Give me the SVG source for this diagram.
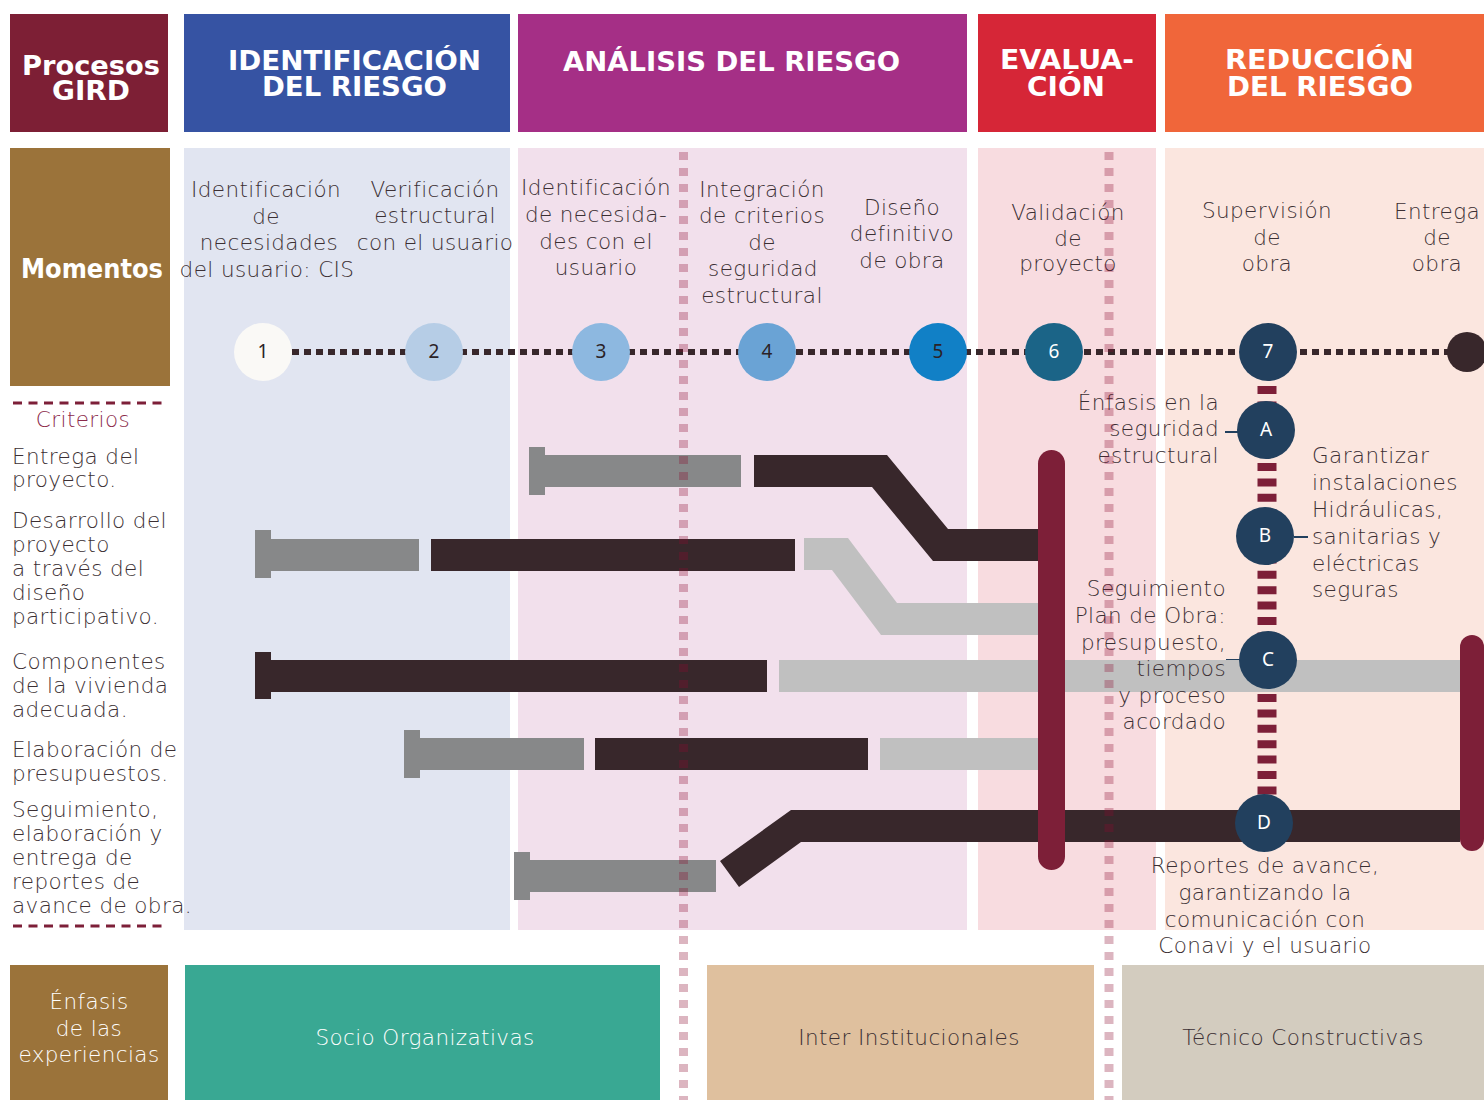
<svg xmlns="http://www.w3.org/2000/svg" width="1484" height="1100" viewBox="0 0 1484 1100">
<defs>
<style>
.hd{font-family:"DejaVu Sans","Liberation Sans",sans-serif;font-weight:bold;fill:#ffffff;font-size:27px}
.t{font-family:"DejaVu Sans","Liberation Sans",sans-serif;font-weight:300;fill:#3B2F33;font-size:21.5px;letter-spacing:0.4px}
.c{text-anchor:middle}
.e{text-anchor:end}
.w{fill:#ffffff}
.num{font-family:"Noto Sans","DejaVu Sans",sans-serif;font-size:19px;text-anchor:middle}
.gray{fill:#878889}
.dark{fill:#38272B}
.light{fill:#C0C0C0}
.crit{stroke:#7D1F38;stroke-width:3;stroke-dasharray:9 6.5}
.pinkdot{stroke:#8B0A30;stroke-opacity:0.3;stroke-width:9;stroke-dasharray:8 8}
.nd{fill:#22405E}
</style>
</defs>
<rect width="1484" height="1100" fill="#ffffff"/>

<g id="headers">
<rect x="10" y="14" width="158" height="118" fill="#7D1F35"/>
<rect x="184" y="14" width="326" height="118" fill="#3653A3"/>
<rect x="518" y="14" width="449" height="118" fill="#A52F86"/>
<rect x="978" y="14" width="178" height="118" fill="#D62637"/>
<rect x="1165" y="14" width="319" height="118" fill="#F0663A"/>
<text class="hd" x="22" y="75" textLength="138" lengthAdjust="spacingAndGlyphs">Procesos</text>
<text class="hd" x="52" y="100" textLength="78" lengthAdjust="spacingAndGlyphs">GIRD</text>
<text class="hd" x="228" y="70" textLength="253" lengthAdjust="spacingAndGlyphs">IDENTIFICACIÓN</text>
<text class="hd" x="262" y="96" textLength="185" lengthAdjust="spacingAndGlyphs">DEL RIESGO</text>
<text class="hd" x="563" y="71" textLength="337" lengthAdjust="spacingAndGlyphs">ANÁLISIS DEL RIESGO</text>
<text class="hd" x="1000" y="69" textLength="134" lengthAdjust="spacingAndGlyphs">EVALUA-</text>
<text class="hd" x="1027" y="96" textLength="78" lengthAdjust="spacingAndGlyphs">CIÓN</text>
<text class="hd" x="1225" y="69" textLength="189" lengthAdjust="spacingAndGlyphs">REDUCCIÓN</text>
<text class="hd" x="1227" y="96" textLength="186" lengthAdjust="spacingAndGlyphs">DEL RIESGO</text>
</g>

<g id="panels">
<rect x="10" y="148" width="160" height="238" fill="#9B733A"/>
<rect x="184" y="148" width="326" height="782" fill="#E1E5F1"/>
<rect x="518" y="148" width="449" height="782" fill="#F2E0EC"/>
<rect x="978" y="148" width="178" height="782" fill="#F8DCE0"/>
<rect x="1165" y="148" width="319" height="782" fill="#FBE6DF"/>
<text class="hd" x="21" y="278" font-size="26" textLength="142" lengthAdjust="spacingAndGlyphs">Momentos</text>
</g>

<g id="momentos-labels">
<text class="t c" x="266" y="197">Identificación</text>
<text class="t c" x="266" y="224">de</text>
<text class="t c" x="269" y="250">necesidades</text>
<text class="t c" x="267" y="277">del usuario: CIS</text>
<text class="t c" x="435" y="197">Verificación</text>
<text class="t c" x="435" y="223">estructural</text>
<text class="t c" x="435" y="250">con el usuario</text>
<text class="t c" x="596" y="195">Identificación</text>
<text class="t c" x="596" y="222">de necesida-</text>
<text class="t c" x="596" y="249">des con el</text>
<text class="t c" x="596" y="275">usuario</text>
<text class="t c" x="762" y="197">Integración</text>
<text class="t c" x="762" y="223">de criterios</text>
<text class="t c" x="762" y="250">de</text>
<text class="t c" x="763" y="276">seguridad</text>
<text class="t c" x="762" y="303">estructural</text>
<text class="t c" x="902" y="215">Diseño</text>
<text class="t c" x="902" y="241">definitivo</text>
<text class="t c" x="902" y="268">de obra</text>
<text class="t c" x="1068" y="220">Validación</text>
<text class="t c" x="1068" y="246">de</text>
<text class="t c" x="1068" y="271">proyecto</text>
<text class="t c" x="1267" y="218">Supervisión</text>
<text class="t c" x="1267" y="245">de</text>
<text class="t c" x="1267" y="271">obra</text>
<text class="t c" x="1437" y="219">Entrega</text>
<text class="t c" x="1437" y="245">de</text>
<text class="t c" x="1437" y="271">obra</text>
</g>

<g id="criterios">
<line class="crit" x1="13" y1="403" x2="168" y2="403"/>
<text class="t c" x="83" y="427" style="fill:#8C2A4B">Criterios</text>
<text class="t" x="12" y="464">Entrega del</text>
<text class="t" x="12" y="487">proyecto.</text>
<text class="t" x="12" y="528">Desarrollo del</text>
<text class="t" x="12" y="552">proyecto</text>
<text class="t" x="12" y="576">a través del</text>
<text class="t" x="12" y="600">diseño</text>
<text class="t" x="12" y="624">participativo.</text>
<text class="t" x="12" y="669">Componentes</text>
<text class="t" x="12" y="693">de la vivienda</text>
<text class="t" x="12" y="717">adecuada.</text>
<text class="t" x="12" y="757">Elaboración de</text>
<text class="t" x="12" y="781">presupuestos.</text>
<text class="t" x="12" y="817">Seguimiento,</text>
<text class="t" x="12" y="841">elaboración y</text>
<text class="t" x="12" y="865">entrega de</text>
<text class="t" x="12" y="889">reportes de</text>
<text class="t" x="12" y="913">avance de obra.</text>
<line class="crit" x1="13" y1="926" x2="168" y2="926"/>
</g>

<g id="bottom">
<rect x="10" y="965" width="158" height="135" fill="#9B733A"/>
<rect x="185" y="965" width="475" height="135" fill="#39A893"/>
<rect x="707" y="965" width="387" height="135" fill="#DFC09E"/>
<rect x="1122" y="965" width="362" height="135" fill="#D3CCBF"/>
<text class="t c" x="89" y="1009" style="fill:#fff">Énfasis</text>
<text class="t c" x="89" y="1036" style="fill:#fff">de las</text>
<text class="t c" x="89" y="1062" style="fill:#fff">experiencias</text>
<text class="t c" x="425" y="1045" style="fill:#fff">Socio Organizativas</text>
<text class="t c" x="909" y="1045">Inter Institucionales</text>
<text class="t c" x="1303" y="1045">Técnico Constructivas</text>
</g>

<g id="connectors">
<line x1="292" y1="352" x2="1450" y2="352" stroke="#38272B" stroke-width="6" stroke-dasharray="7 5"/>
<line x1="1267" y1="386" x2="1267" y2="796" stroke="#7D1F38" stroke-width="19" stroke-dasharray="8 7.4"/>
<line x1="1225" y1="432" x2="1238" y2="432" stroke="#22405E" stroke-width="2"/>
<line x1="1294" y1="537" x2="1308" y2="537" stroke="#22405E" stroke-width="2"/>
<line x1="1226" y1="660" x2="1240" y2="660" stroke="#22405E" stroke-width="2"/>
</g>

<g id="bars">
<rect class="gray" x="529" y="455" width="212" height="32"/>
<rect class="gray" x="529" y="447" width="16" height="48"/>
<polygon class="dark" points="754,455 887,455 948,529 1040,529 1040,561 933,561 872,487 754,487"/>
<rect class="gray" x="255" y="539" width="164" height="32"/>
<rect class="gray" x="255" y="530" width="16" height="48"/>
<rect class="dark" x="431" y="539" width="364" height="32"/>
<polygon class="light" points="804,538 848,538 897,603 1040,603 1040,635 881,635 832,570 804,570"/>
<rect class="dark" x="255" y="660" width="512" height="32"/>
<rect class="dark" x="255" y="652" width="16" height="47"/>
<rect class="light" x="779" y="660" width="681" height="32"/>
<rect class="gray" x="404" y="738" width="180" height="32"/>
<rect class="gray" x="404" y="730" width="16" height="48"/>
<rect class="dark" x="595" y="738" width="273" height="32"/>
<rect class="light" x="880" y="738" width="160" height="32"/>
<rect class="gray" x="514" y="860" width="202" height="32"/>
<rect class="gray" x="514" y="852" width="16" height="48"/>
<polygon class="dark" points="720,861 791,810 1460,810 1460,842 801,842 739,887"/>
<line x1="1051.5" y1="463.5" x2="1051.5" y2="856.5" stroke="#7D1F38" stroke-width="27" stroke-linecap="round"/>
<line x1="1472" y1="647" x2="1472" y2="839" stroke="#7D1F38" stroke-width="24" stroke-linecap="round"/>
</g>

<g id="node-1"><circle cx="263" cy="352" r="29" fill="#FAF9F6"/><text class="num" x="263" y="358" fill="#2B2226">1</text></g>
<g id="node-2"><circle cx="434" cy="352" r="29" fill="#B6CDE6"/><text class="num" x="434" y="358" fill="#2B2226">2</text></g>
<g id="node-3"><circle cx="601" cy="352" r="29" fill="#8DB8E0"/><text class="num" x="601" y="358" fill="#2B2226">3</text></g>
<g id="node-4"><circle cx="767" cy="352" r="29" fill="#6AA3D5"/><text class="num" x="767" y="358" fill="#2B2226">4</text></g>
<g id="node-5"><circle cx="938" cy="352" r="29" fill="#1180C6"/><text class="num" x="938" y="358" fill="#2B2226">5</text></g>
<g id="node-6"><circle cx="1054" cy="352" r="29" fill="#1B6487"/><text class="num" x="1054" y="358" fill="#ffffff">6</text></g>
<g id="node-7"><circle cx="1268" cy="352" r="29" fill="#22405E"/><text class="num" x="1268" y="358" fill="#ffffff">7</text></g>
<g id="node-end"><circle cx="1467" cy="352" r="20" fill="#38272B"/></g>
<g id="node-A"><circle class="nd" cx="1266" cy="430" r="29"/><text class="num" x="1266" y="436" fill="#ffffff">A</text></g>
<g id="node-B"><circle class="nd" cx="1265" cy="536" r="29"/><text class="num" x="1265" y="542" fill="#ffffff">B</text></g>
<g id="node-C"><circle class="nd" cx="1268" cy="660" r="29"/><text class="num" x="1268" y="666" fill="#ffffff">C</text></g>
<g id="node-D"><circle class="nd" cx="1264" cy="823" r="29"/><text class="num" x="1264" y="829" fill="#ffffff">D</text></g>

<g id="annotations">
<text class="t e" x="1219" y="410">Énfasis en la</text>
<text class="t e" x="1219" y="436">seguridad</text>
<text class="t e" x="1219" y="463">estructural</text>
<text class="t" x="1312" y="463">Garantizar</text>
<text class="t" x="1312" y="490">instalaciones</text>
<text class="t" x="1312" y="517">Hidráulicas,</text>
<text class="t" x="1312" y="544">sanitarias y</text>
<text class="t" x="1312" y="571">eléctricas</text>
<text class="t" x="1312" y="597">seguras</text>
<text class="t e" x="1226" y="596">Seguimiento</text>
<text class="t e" x="1226" y="623">Plan de Obra:</text>
<text class="t e" x="1226" y="650">presupuesto,</text>
<text class="t e" x="1226" y="676">tiempos</text>
<text class="t e" x="1226" y="703">y proceso</text>
<text class="t e" x="1226" y="729">acordado</text>
<text class="t c" x="1265" y="873">Reportes de avance,</text>
<text class="t c" x="1265" y="900">garantizando la</text>
<text class="t c" x="1265" y="927">comunicación con</text>
<text class="t c" x="1265" y="953">Conavi y el usuario</text>
</g>

<g id="dividers">
<line class="pinkdot" x1="683.5" y1="152" x2="683.5" y2="1100"/>
<line class="pinkdot" x1="1109" y1="152" x2="1109" y2="1100"/>
</g>
</svg>
